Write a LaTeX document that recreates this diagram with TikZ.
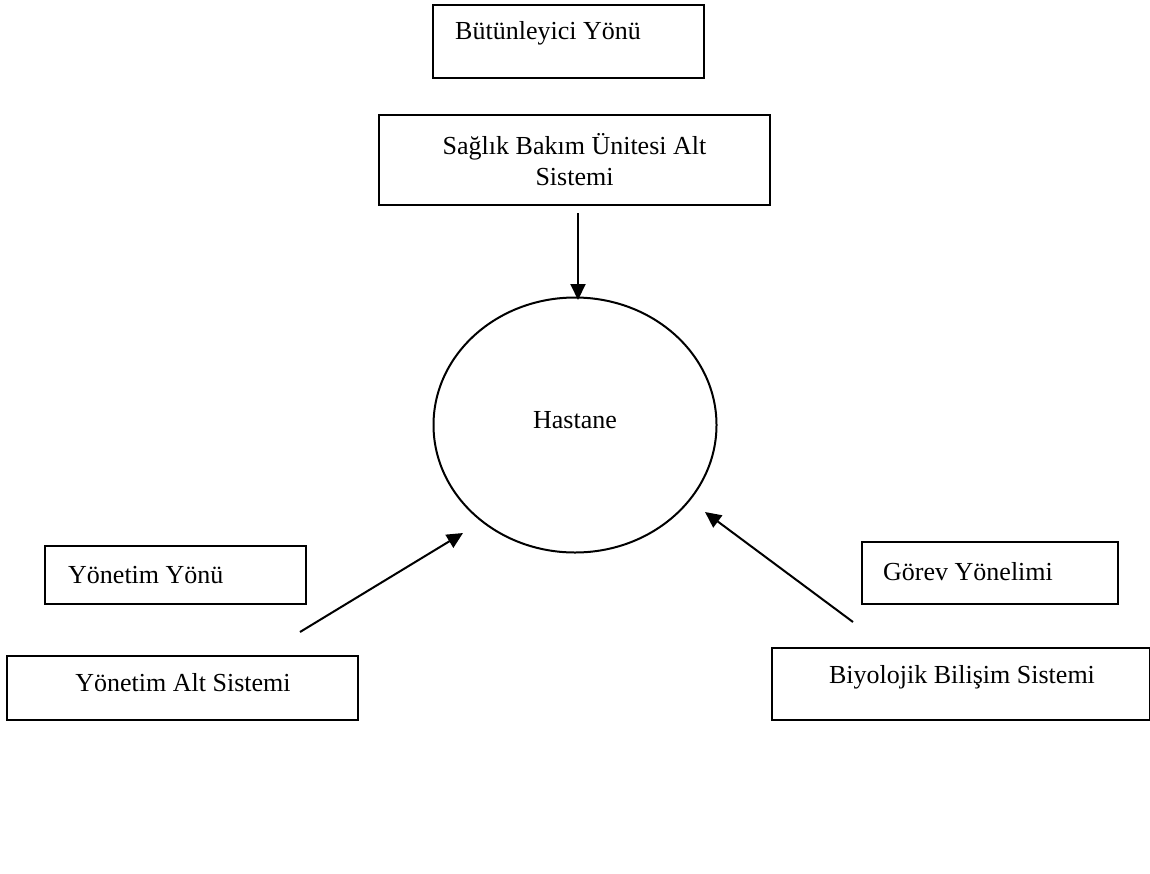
\documentclass[tikz,border=0pt]{standalone}
\usepackage{fontspec}
\setmainfont{Liberation Serif}
\usetikzlibrary{arrows.meta,shapes.geometric}
\begin{document}
\begin{tikzpicture}[x=1pt,y=-1pt,
  box/.style={draw=black,line width=1.3pt,inner sep=0pt},
  txt/.style={font=\fontsize{26}{31}\selectfont,inner sep=0pt},
  arr/.style={line width=2pt,-{Triangle[length=16pt,width=15pt]}}]
\useasboundingbox (0,0) rectangle (1150,873);
% boxes
\node[box,minimum width=271pt,minimum height=73pt] (b1) at (568.5,41.5) {};
\node[txt,anchor=west] (t1) at (455,33) {Bütünleyici Yönü};
\node[box,minimum width=391pt,minimum height=90pt,align=center,
  font=\fontsize{26}{31}\selectfont] (b2) at (574.5,160)
  {Sağlık Bakım Ünitesi Alt\\Sistemi};
\node[draw=black,line width=2pt,ellipse,minimum width=283pt,minimum height=255pt] (h) at (575,425) {};
\node[txt] (ht) at (575,420) {Hastane};
\node[box,minimum width=261pt,minimum height=58pt] (b3) at (175.5,575) {};
\node[txt,anchor=west] (t3) at (68,575) {Yönetim Yönü};
\node[box,minimum width=351pt,minimum height=64pt] (b4) at (182.5,688) {};
\node[txt] (t4) at (183,683) {Yönetim Alt Sistemi};
\node[box,minimum width=256pt,minimum height=62pt] (b5) at (990,573) {};
\node[txt,anchor=west] (t5) at (883,572) {Görev Yönelimi};
\node[box,minimum width=378pt,minimum height=72pt] (b6) at (961,684) {};
\node[txt] (t6) at (962,677) {Biyolojik Bilişim Sistemi};
% connectors
\coordinate (d1) at (578,213);
\coordinate (d2) at (578,300);
\coordinate (l1) at (300,632);
\coordinate (l2) at (463,533);
\coordinate (r1) at (853,622);
\coordinate (r2) at (705,512);
\draw[arr] (d1) -- (d2);
\draw[arr] (l1) -- (l2);
\draw[arr] (r1) -- (r2);
\end{tikzpicture}
\end{document}
